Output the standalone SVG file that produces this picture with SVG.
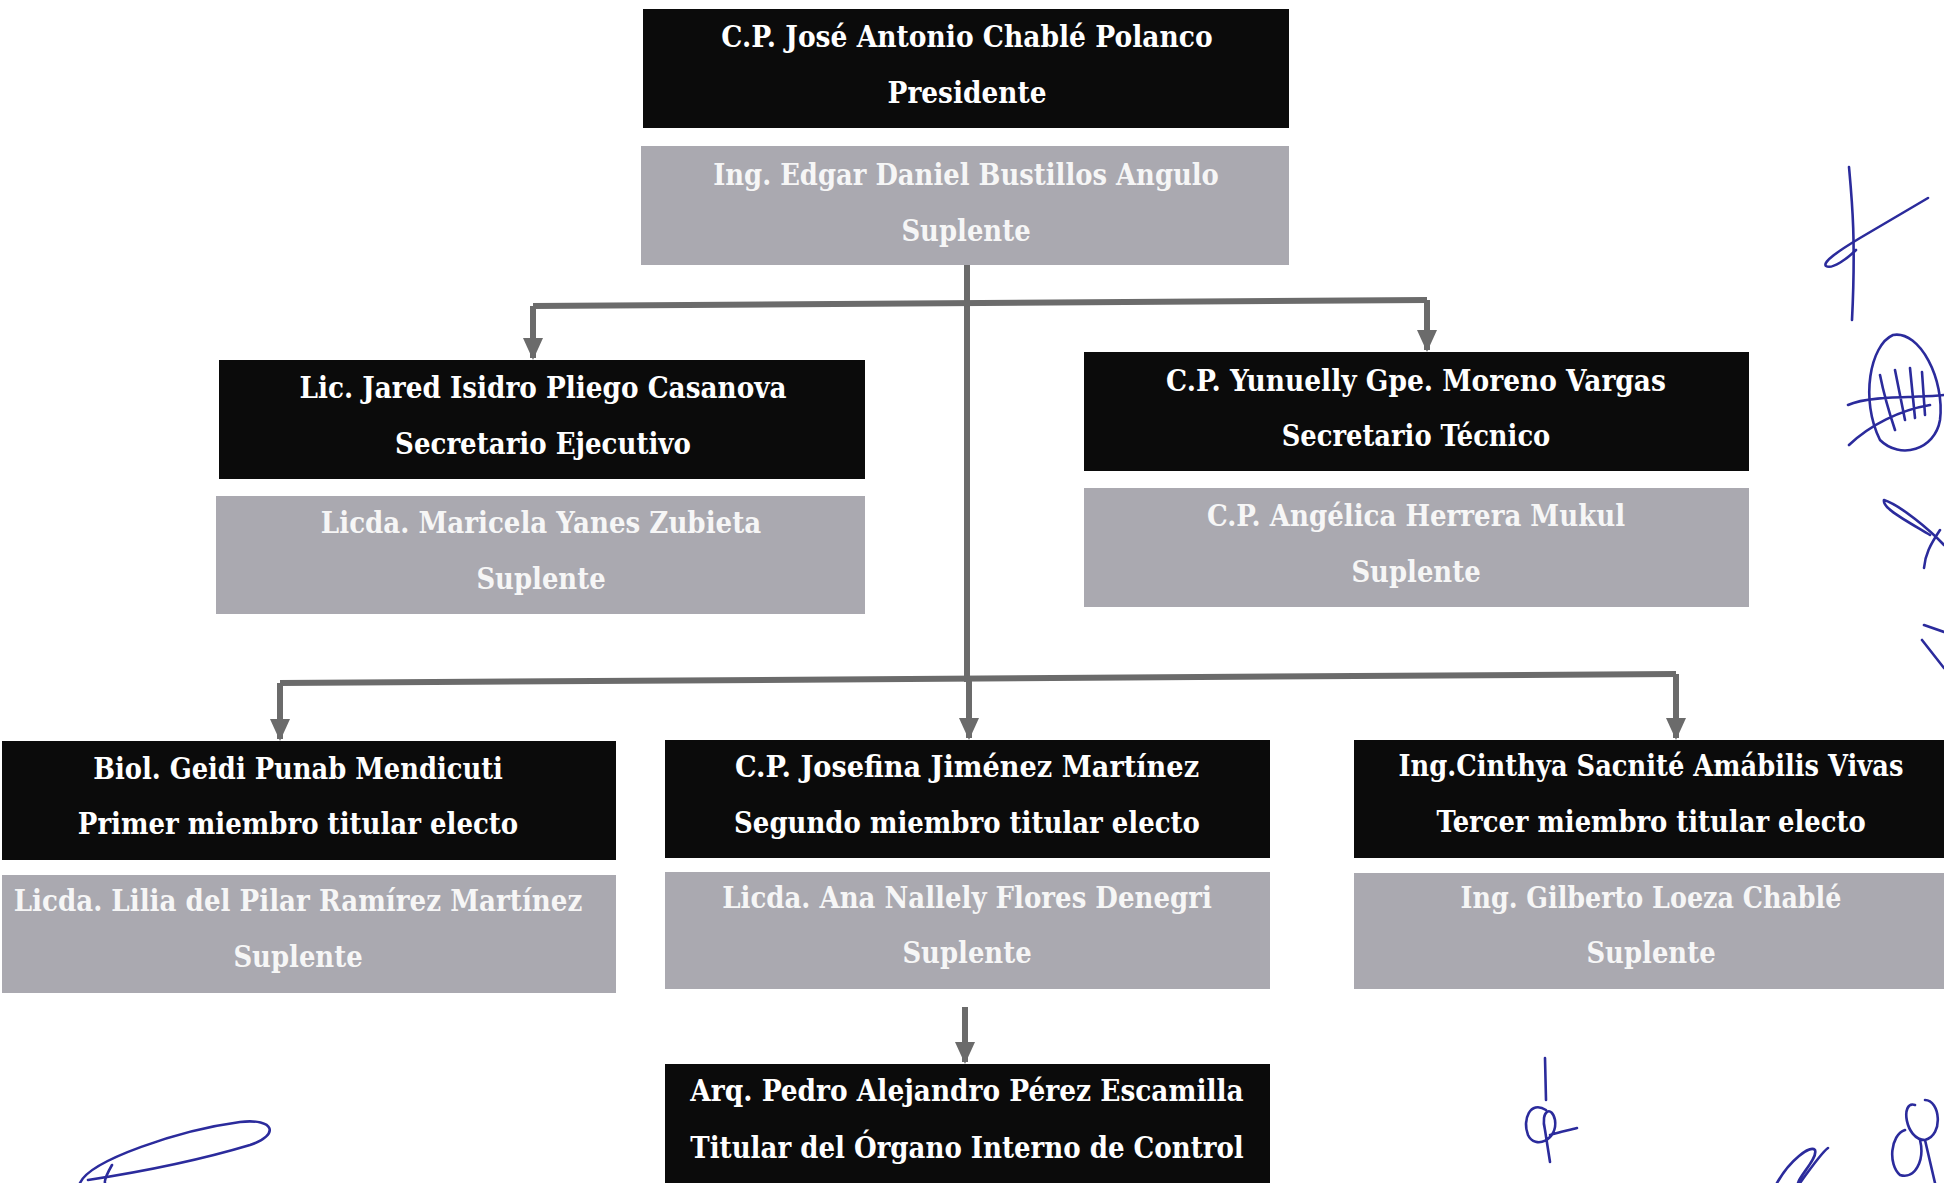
<svg xmlns="http://www.w3.org/2000/svg" width="1944" height="1183" viewBox="0 0 1944 1183">
<defs>
<style>
.tit{fill:#0b0b0b}
.sup{fill:#aaa9b0}
.t{font-family:"DejaVu Serif","Liberation Serif",serif;font-weight:bold;font-size:29px;text-anchor:middle;fill:#ffffff}
.ts{font-family:"DejaVu Serif","Liberation Serif",serif;font-weight:bold;font-size:29px;text-anchor:middle;fill:#f6f6f6}
.c{fill:none;stroke:#6b6b6b;stroke-width:6}
.sig{fill:none;stroke:#2b2b9c;stroke-width:2.6;stroke-linecap:round;stroke-linejoin:round}
</style>
<marker id="ah" viewBox="0 0 22 20" refX="20" refY="10" markerWidth="22" markerHeight="20" markerUnits="userSpaceOnUse" orient="auto">
<path d="M0,0 L22,10 L0,20 Z" fill="#6b6b6b"/>
</marker>
</defs>
<rect width="1944" height="1183" fill="#ffffff"/>

<g id="connectors">
<path class="c" d="M967,265 V682"/>
<path class="c" d="M533,306 L1427,300"/>
<path class="c" d="M533,306 V358" marker-end="url(#ah)"/>
<path class="c" d="M1427,300 V350" marker-end="url(#ah)"/>
<path class="c" d="M280,683 L1676,674"/>
<path class="c" d="M280,683 V739" marker-end="url(#ah)"/>
<path class="c" d="M969,680 V738" marker-end="url(#ah)"/>
<path class="c" d="M1676,674 V738" marker-end="url(#ah)"/>
<path class="c" d="M965,1007 V1062" marker-end="url(#ah)"/>
</g>

<g id="presidente">
<rect class="tit" x="643" y="9" width="646" height="119"/>
<text class="t" transform="translate(967,47) scale(0.85,1)" textLength="578" lengthAdjust="spacingAndGlyphs">C.P. José Antonio Chablé Polanco</text>
<text class="t" transform="translate(967,103) scale(0.85,1)" textLength="187" lengthAdjust="spacingAndGlyphs">Presidente</text>
</g>
<g id="suplente-presidente">
<rect class="sup" x="641" y="146" width="648" height="119"/>
<text class="ts" transform="translate(966,185) scale(0.85,1)" textLength="595" lengthAdjust="spacingAndGlyphs">Ing. Edgar Daniel Bustillos Angulo</text>
<text class="ts" transform="translate(966,241) scale(0.85,1)" textLength="152" lengthAdjust="spacingAndGlyphs">Suplente</text>
</g>

<g id="secretario-ejecutivo">
<rect class="tit" x="219" y="360" width="646" height="119"/>
<text class="t" transform="translate(543,398) scale(0.85,1)" textLength="573" lengthAdjust="spacingAndGlyphs">Lic. Jared Isidro Pliego Casanova</text>
<text class="t" transform="translate(543,454) scale(0.85,1)" textLength="348" lengthAdjust="spacingAndGlyphs">Secretario Ejecutivo</text>
</g>
<g id="suplente-ejecutivo">
<rect class="sup" x="216" y="496" width="649" height="118"/>
<text class="ts" transform="translate(541,533) scale(0.85,1)" textLength="518" lengthAdjust="spacingAndGlyphs">Licda. Maricela Yanes Zubieta</text>
<text class="ts" transform="translate(541,589) scale(0.85,1)" textLength="152" lengthAdjust="spacingAndGlyphs">Suplente</text>
</g>

<g id="secretario-tecnico">
<rect class="tit" x="1084" y="352" width="665" height="119"/>
<text class="t" transform="translate(1416,391) scale(0.85,1)" textLength="588" lengthAdjust="spacingAndGlyphs">C.P. Yunuelly Gpe. Moreno Vargas</text>
<text class="t" transform="translate(1416,446) scale(0.85,1)" textLength="316" lengthAdjust="spacingAndGlyphs">Secretario Técnico</text>
</g>
<g id="suplente-tecnico">
<rect class="sup" x="1084" y="488" width="665" height="119"/>
<text class="ts" transform="translate(1416,526) scale(0.85,1)" textLength="492" lengthAdjust="spacingAndGlyphs">C.P. Angélica Herrera Mukul</text>
<text class="ts" transform="translate(1416,582) scale(0.85,1)" textLength="152" lengthAdjust="spacingAndGlyphs">Suplente</text>
</g>

<g id="primer-miembro">
<rect class="tit" x="2" y="741" width="614" height="119"/>
<text class="t" transform="translate(298,779) scale(0.85,1)" textLength="482" lengthAdjust="spacingAndGlyphs">Biol. Geidi Punab Mendicuti</text>
<text class="t" transform="translate(298,834) scale(0.85,1)" textLength="518" lengthAdjust="spacingAndGlyphs">Primer miembro titular electo</text>
</g>
<g id="suplente-primer">
<rect class="sup" x="2" y="875" width="614" height="118"/>
<text class="ts" transform="translate(298,911) scale(0.85,1)" textLength="669" lengthAdjust="spacingAndGlyphs">Licda. Lilia del Pilar Ramírez Martínez</text>
<text class="ts" transform="translate(298,967) scale(0.85,1)" textLength="152" lengthAdjust="spacingAndGlyphs">Suplente</text>
</g>

<g id="segundo-miembro">
<rect class="tit" x="665" y="740" width="605" height="118"/>
<text class="t" transform="translate(967,777) scale(0.85,1)" textLength="546" lengthAdjust="spacingAndGlyphs">C.P. Josefina Jiménez Martínez</text>
<text class="t" transform="translate(967,833) scale(0.85,1)" textLength="548" lengthAdjust="spacingAndGlyphs">Segundo miembro titular electo</text>
</g>
<g id="suplente-segundo">
<rect class="sup" x="665" y="872" width="605" height="117"/>
<text class="ts" transform="translate(967,908) scale(0.85,1)" textLength="576" lengthAdjust="spacingAndGlyphs">Licda. Ana Nallely Flores Denegri</text>
<text class="ts" transform="translate(967,963) scale(0.85,1)" textLength="152" lengthAdjust="spacingAndGlyphs">Suplente</text>
</g>

<g id="tercer-miembro">
<rect class="tit" x="1354" y="740" width="590" height="118"/>
<text class="t" transform="translate(1651,776) scale(0.85,1)" textLength="594" lengthAdjust="spacingAndGlyphs">Ing.Cinthya Sacnité Amábilis Vivas</text>
<text class="t" transform="translate(1651,832) scale(0.85,1)" textLength="505" lengthAdjust="spacingAndGlyphs">Tercer miembro titular electo</text>
</g>
<g id="suplente-tercer">
<rect class="sup" x="1354" y="873" width="590" height="116"/>
<text class="ts" transform="translate(1651,908) scale(0.85,1)" textLength="448" lengthAdjust="spacingAndGlyphs">Ing. Gilberto Loeza Chablé</text>
<text class="ts" transform="translate(1651,963) scale(0.85,1)" textLength="152" lengthAdjust="spacingAndGlyphs">Suplente</text>
</g>

<g id="organo-interno">
<rect class="tit" x="665" y="1064" width="605" height="119"/>
<text class="t" transform="translate(967,1101) scale(0.85,1)" textLength="651" lengthAdjust="spacingAndGlyphs">Arq. Pedro Alejandro Pérez Escamilla</text>
<text class="t" transform="translate(967,1158) scale(0.85,1)" textLength="651" lengthAdjust="spacingAndGlyphs">Titular del Órgano Interno de Control</text>
</g>

<g id="firmas">
<path class="sig" d="M1849,167 C1852,200 1856,240 1852,320"/>
<path class="sig" d="M1928,198 L1860,238 C1840,250 1822,262 1826,266 C1832,270 1848,258 1856,250"/>
<path class="sig" d="M1893,335 C1870,345 1860,400 1880,440 C1900,460 1935,450 1940,420 C1945,380 1920,330 1893,335 Z"/>
<path class="sig" d="M1848,405 C1870,395 1920,398 1944,395 M1849,445 C1870,425 1900,410 1930,405 M1880,375 C1885,400 1890,415 1895,430 M1895,370 L1905,420 M1910,368 L1915,418 M1922,372 L1925,415"/>
<path class="sig" d="M1884,500 C1900,505 1930,530 1944,545 M1884,500 C1882,508 1905,520 1930,535 M1940,530 C1930,545 1925,555 1924,568"/>
<path class="sig" d="M1924,625 L1944,632 M1922,640 L1944,668"/>
<path class="sig" d="M80,1183 C90,1160 180,1130 240,1122 C275,1118 280,1135 250,1145 C200,1160 140,1172 88,1180"/>
<path class="sig" d="M112,1165 C108,1172 104,1180 105,1183"/>
<path class="sig" d="M1545,1058 L1546,1100 M1546,1110 C1530,1100 1522,1120 1528,1135 C1535,1150 1558,1140 1555,1120 C1552,1105 1540,1110 1545,1130 L1550,1162 M1550,1135 C1560,1132 1570,1130 1577,1128"/>
<path class="sig" d="M1777,1183 C1790,1160 1810,1145 1815,1150 C1818,1158 1800,1175 1798,1183 M1800,1183 C1815,1162 1825,1150 1828,1148"/>
<path class="sig" d="M1915,1105 C1900,1100 1905,1140 1925,1140 C1944,1135 1940,1100 1925,1100 M1905,1130 C1890,1135 1888,1165 1900,1175 C1915,1180 1925,1160 1920,1140 M1925,1140 L1935,1183"/>
</g>
</svg>
